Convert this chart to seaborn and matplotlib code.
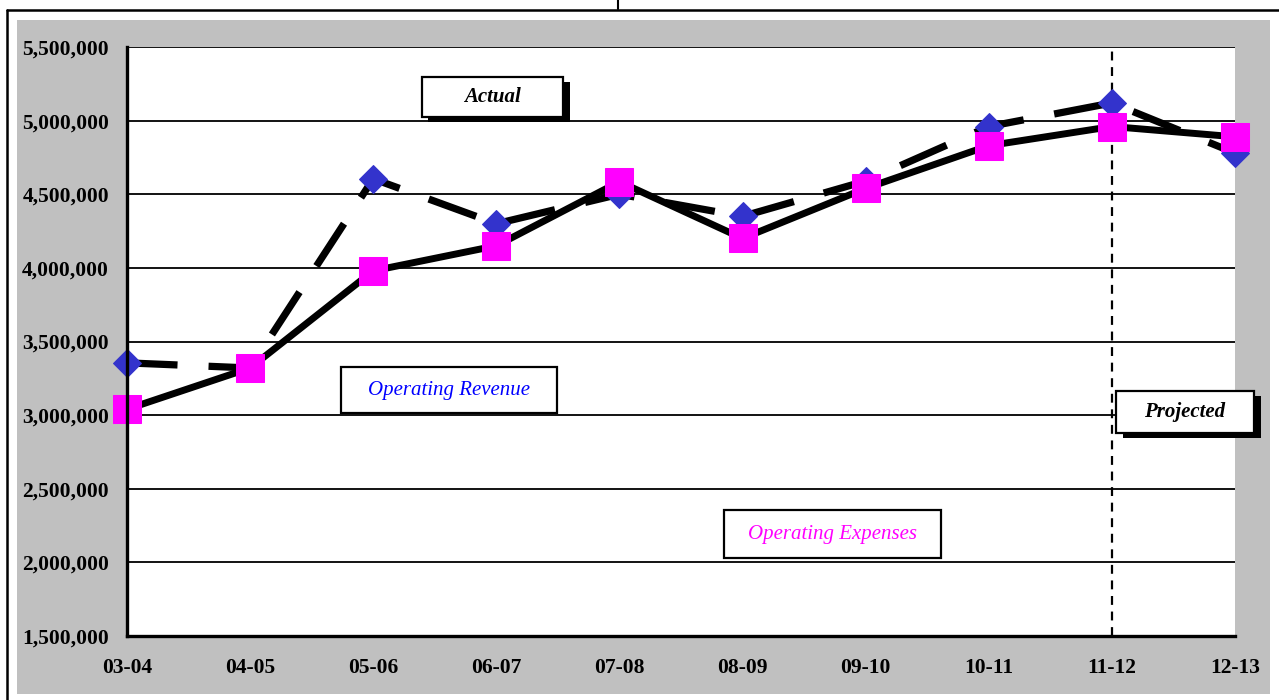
import matplotlib
matplotlib.use("Agg")
import matplotlib.pyplot as plt
import matplotlib.patches as mpatches
from matplotlib.ticker import FuncFormatter
import seaborn as sns
import pandas as pd

years = ["03-04", "04-05", "05-06", "06-07", "07-08", "08-09", "09-10", "10-11", "11-12", "12-13"]
revenue = [3355000, 3320000, 4605000, 4300000, 4500000, 4350000, 4590000, 4960000, 5120000, 4780000]
expenses = [3040000, 3320000, 3980000, 4150000, 4585000, 4200000, 4540000, 4830000, 4960000, 4890000]
y_ticks = [1500000, 2000000, 2500000, 3000000, 3500000, 4000000, 4500000, 5000000, 5500000]
projected_from = "11-12"

sns.set_theme(style="white")
plt.rcParams["font.family"] = ["Liberation Serif", "DejaVu Serif"]

fig = plt.figure(figsize=(12.79, 7.0), dpi=100)
fig.patch.set_facecolor("white")
W, H = 1279.0, 700.0
# gray chart area
fig.add_artist(mpatches.Rectangle((17 / W, (H - 694) / H), (1270 - 17) / W, (694 - 20) / H,
                                  transform=fig.transFigure, facecolor="#C0C0C0", edgecolor="none", zorder=0))
# outer black frame lines
fig.add_artist(plt.Line2D([7 / W, 1.0], [(H - 10) / H, (H - 10) / H], transform=fig.transFigure, color="black", lw=1.8))
fig.add_artist(plt.Line2D([7 / W, 7 / W], [0, (H - 10) / H], transform=fig.transFigure, color="black", lw=1.8))
fig.add_artist(plt.Line2D([618 / W, 618 / W], [(H - 9) / H, 1.0], transform=fig.transFigure, color="black", lw=1.5))

ax = fig.add_axes([127 / W, (H - 636) / H, (1235 - 127) / W, (636 - 47) / H])
ax.set_facecolor("white")

df = pd.DataFrame({"year": years, "Operating Revenue": revenue, "Operating Expenses": expenses})
xpos = list(range(len(years)))
df["x"] = xpos

sns.lineplot(data=df, x="x", y="Operating Revenue", ax=ax, color="black", lw=5.2,
             linestyle=(0, (7, 4.3)), dash_capstyle="butt",
             marker="D", markersize=14, markerfacecolor="#3333CC", markeredgecolor="#3333CC",
             clip_on=False, zorder=4)
sns.lineplot(data=df, x="x", y="Operating Expenses", ax=ax, color="black", lw=5.0,
             marker="s", markersize=20, markerfacecolor="#FF00FF", markeredgecolor="#FF00FF",
             clip_on=False, zorder=5)

ax.set_xlim(0, len(years) - 1)
ax.set_ylim(y_ticks[0], y_ticks[-1])
ax.set_xticks(xpos)
ax.set_xticklabels(years)
ax.set_yticks(y_ticks)
ax.yaxis.set_major_formatter(FuncFormatter(lambda v, p: f"{int(v):,}"))
ax.set_xlabel("")
ax.set_ylabel("")

for yv in y_ticks[1:]:
    ax.axhline(yv, color="black", lw=1.3, zorder=1)

ax.axvline(years.index(projected_from), color="black", lw=1.6, linestyle=(0, (4, 3)), zorder=3)

for s in ["top", "right"]:
    ax.spines[s].set_visible(False)
for s in ["left", "bottom"]:
    ax.spines[s].set_color("black")
    ax.spines[s].set_linewidth(2.4)
    ax.spines[s].set_zorder(6)
ax.tick_params(axis="both", which="both", direction="out", length=4, width=2.4, color="black",
               labelsize=15.5, labelcolor="black")
ax.tick_params(axis="y", pad=9)
ax.tick_params(axis="x", pad=12)
for lab in ax.get_xticklabels() + ax.get_yticklabels():
    lab.set_fontweight("bold")


def label_box(x0, x1, y0, y1, text, color, weight, shadow):
    if shadow:
        sh = mpatches.Rectangle((x0 + 0.006, y0 - 0.009), x1 - x0, y1 - y0, transform=ax.transAxes,
                                facecolor="black", edgecolor="black", lw=0, zorder=7, clip_on=False)
        ax.add_patch(sh)
    r = mpatches.Rectangle((x0, y0), x1 - x0, y1 - y0, transform=ax.transAxes,
                           facecolor="white", edgecolor="black", lw=1.6, zorder=8, clip_on=False)
    ax.add_patch(r)
    ax.text((x0 + x1) / 2, (y0 + y1) / 2, text, transform=ax.transAxes, ha="center", va="center",
            fontsize=15, style="italic", fontweight=weight, color=color, zorder=9)


label_box(0.266, 0.3935, 0.8817, 0.9496, "Actual", "black", "bold", True)
label_box(0.1929, 0.3884, 0.3781, 0.4572, "Operating Revenue", "#0000FF", "normal", False)
label_box(0.5388, 0.7344, 0.1319, 0.2139, "Operating Expenses", "#FF00FF", "normal", False)
label_box(0.8926, 1.0171, 0.3452, 0.4165, "Projected", "black", "bold", True)

fig.savefig("out.png", dpi=100, facecolor="white")
